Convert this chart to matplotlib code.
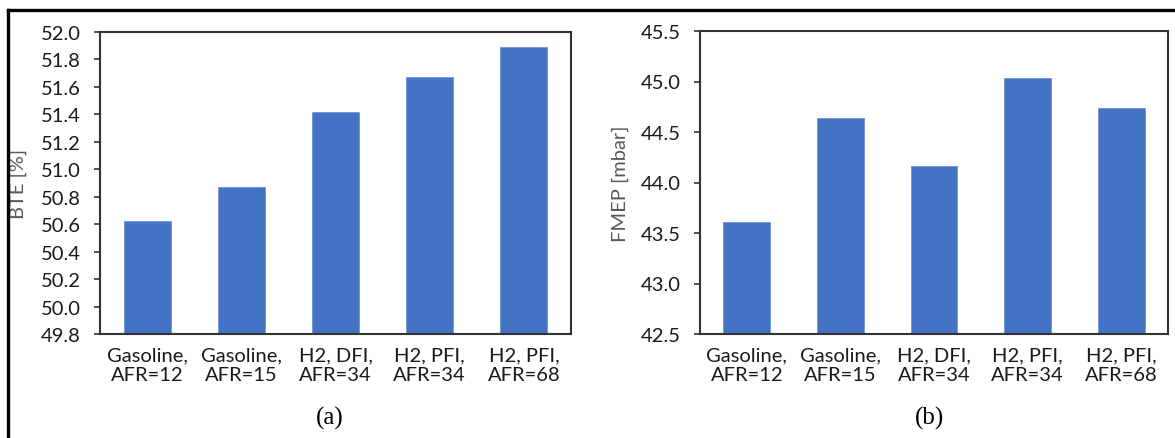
import matplotlib
matplotlib.use("Agg")
import matplotlib.pyplot as plt
from matplotlib.lines import Line2D

# data
categories = ["Gasoline,\nAFR=12", "Gasoline,\nAFR=15", "H2, DFI,\nAFR=34",
              "H2, PFI,\nAFR=34", "H2, PFI,\nAFR=68"]
bte = [50.62, 50.87, 51.42, 51.67, 51.89]
fmep = [43.61, 44.64, 44.16, 45.03, 44.74]
bte_ticks = [49.8, 50.0, 50.2, 50.4, 50.6, 50.8, 51.0, 51.2, 51.4, 51.6, 51.8, 52.0]
fmep_ticks = [42.5, 43.0, 43.5, 44.0, 44.5, 45.0, 45.5]

BAR = "#4472C4"
FONT = "Lato"


def draw_panel(ax, values, ticks, ylabel, fmt):
    x = range(len(categories))
    ax.bar(x, values, width=0.5, color=BAR, edgecolor="#6f93d6", linewidth=0.6, zorder=2)
    ax.set_xlim(-0.5, len(categories) - 0.5)
    ax.set_ylim(ticks[0], ticks[-1])
    ax.set_yticks(ticks)
    ax.set_yticklabels([fmt.format(t) for t in ticks], fontsize=14.5, family=FONT, color="#1a1a1a")
    ax.set_xticks(list(x))
    ax.set_xticklabels(categories, fontsize=14.5, family=FONT, color="#1a1a1a")
    ax.tick_params(axis="x", length=0, pad=9)
    ax.tick_params(axis="y", direction="out", length=4, width=1.2, color="#333333", pad=10)
    for s in ax.spines.values():
        s.set_color("#333333")
        s.set_linewidth(1.5)
    ax.set_ylabel(ylabel, fontsize=14.5, family=FONT, color="#595959")


fig = plt.figure(figsize=(11.75, 4.39), dpi=100)

ax1 = fig.add_axes([100 / 1175, 1 - 335 / 439, 471 / 1175, 302 / 439])
draw_panel(ax1, bte, bte_ticks, "BTE [%]", "{:.1f}")
ax1.yaxis.set_label_coords(-0.155, 0.5)

ax2 = fig.add_axes([700 / 1175, 1 - 335 / 439, 468 / 1175, 303 / 439])
draw_panel(ax2, fmep, fmep_ticks, "FMEP [mbar]", "{:.1f}")
ax2.yaxis.set_label_coords(-0.152, 0.5)

# panel captions
fig.text(330 / 1175, 1 - 418 / 439, "(a)", ha="center", va="center",
         fontsize=18, family="Liberation Serif")
fig.text(930 / 1175, 1 - 418 / 439, "(b)", ha="center", va="center",
         fontsize=18, family="Liberation Serif")

# outer frame (top and left edges)
fig.add_artist(Line2D([8 / 1175, 1.0], [1 - 11 / 439, 1 - 11 / 439],
                      transform=fig.transFigure, color="black", linewidth=2.4))
fig.add_artist(Line2D([8 / 1175, 8 / 1175], [0.0, 1 - 11 / 439],
                      transform=fig.transFigure, color="black", linewidth=2.4))

fig.savefig("out.png", dpi=100)
